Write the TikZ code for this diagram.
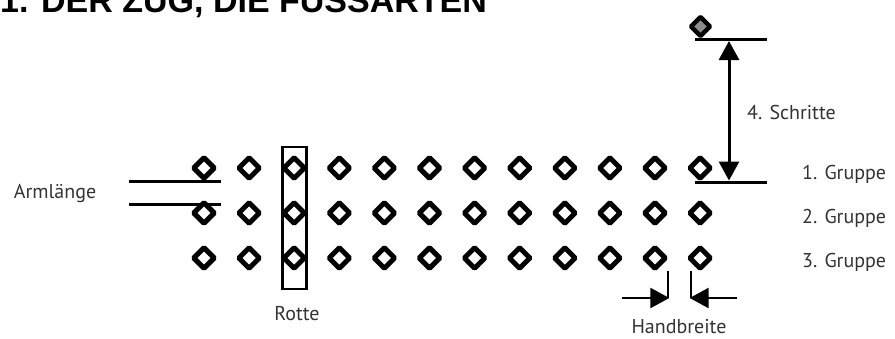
\documentclass[tikz,border=0pt]{standalone}
\usepackage{fontspec}
\setmainfont{PT Sans}
\newfontfamily\titlefont{Liberation Sans}
\usetikzlibrary{arrows.meta,shapes.geometric}
\tikzset{
  dia/.style={draw=black, rectangle, rotate=45, minimum width=14.5pt, minimum height=14.5pt, inner sep=0pt, line width=5pt, rounded corners=1pt, fill=white},
  diagray/.style={dia, fill=black!45},
  bar/.style={line width=3pt},
  lbl/.style={text=black!80, font=\fontsize{20}{22}\selectfont, inner sep=0pt},
  tip/.style={-{Triangle[length=19pt,width=20pt]}},
  dtip/.style={{Triangle[length=19pt,width=20pt]}-{Triangle[length=19pt,width=20pt]}},
}
\begin{document}
\begin{tikzpicture}[x=1pt,y=-1pt]
\useasboundingbox (0,0) rectangle (895,338);
% title, cut off at the top
\node[anchor=base west, inner sep=0pt, font=\titlefont\bfseries\fontsize{34}{36}\selectfont] (title) at (0,12) {1. DER ZUG, DIE FUSSARTEN};
% grid of diamonds
\foreach \r/\y in {1/168,2/213,3/258}{
  \foreach \c in {0,...,11}{
    \node[dia] (d\r-\c) at ({204+45.1*\c},\y) {};
  }
}
% Rotte rectangle
\node[draw, line width=2.6pt, minimum width=24pt, minimum height=142pt, inner sep=0pt] (rotte box) at (294.2,218) {};
\node[lbl] (rotte) at (297,314) {Rotte};
% Armlaenge
\coordinate (a1l) at (129,181);
\coordinate (a1r) at (221,181);
\coordinate (a2l) at (129,204);
\coordinate (a2r) at (221,204);
\draw[bar] (a1l) -- (a1r);
\draw[bar] (a2l) -- (a2r);
\node[lbl] (arm) at (55,194) {Armlänge};
% step dimension
\node[diagray, minimum width=13.5pt, minimum height=13.5pt, line width=4.5pt] (top) at (700.5,26.5) {};
\coordinate (t1) at (695,39.5);
\coordinate (t2) at (767,39.5);
\coordinate (b1) at (695,182);
\coordinate (b2) at (767,182);
\draw[bar] (t1) -- (t2);
\draw[bar] (b1) -- (b2);
\coordinate (vt) at (729,41);
\coordinate (vb) at (729,180.5);
\draw[bar, dtip] (vb) -- (vt);
\node[lbl, anchor=west] (schritte) at (747,112) {4. Schritte};
% group labels
\node[lbl, anchor=west] (g1) at (802,174) {1. Gruppe};
\node[lbl, anchor=west] (g2) at (802,218) {2. Gruppe};
\node[lbl, anchor=west] (g3) at (802,262) {3. Gruppe};
% Handbreite
\coordinate (hl1) at (668,271);
\coordinate (hl2) at (668,298);
\coordinate (hl3) at (622,298);
\coordinate (hr1) at (691,271);
\coordinate (hr2) at (691,298);
\coordinate (hr3) at (737,298);
\draw[line width=2.6pt] (hl1) -- (hl2);
\draw[line width=2.6pt] (hr1) -- (hr2);
\draw[line width=2.6pt, tip] (hl3) -- ([xshift=1.3pt]hl2);
\draw[line width=2.6pt, tip] (hr3) -- ([xshift=-1.3pt]hr2);
\node[lbl] (hand) at (679,327) {Handbreite};
\end{tikzpicture}
\end{document}
